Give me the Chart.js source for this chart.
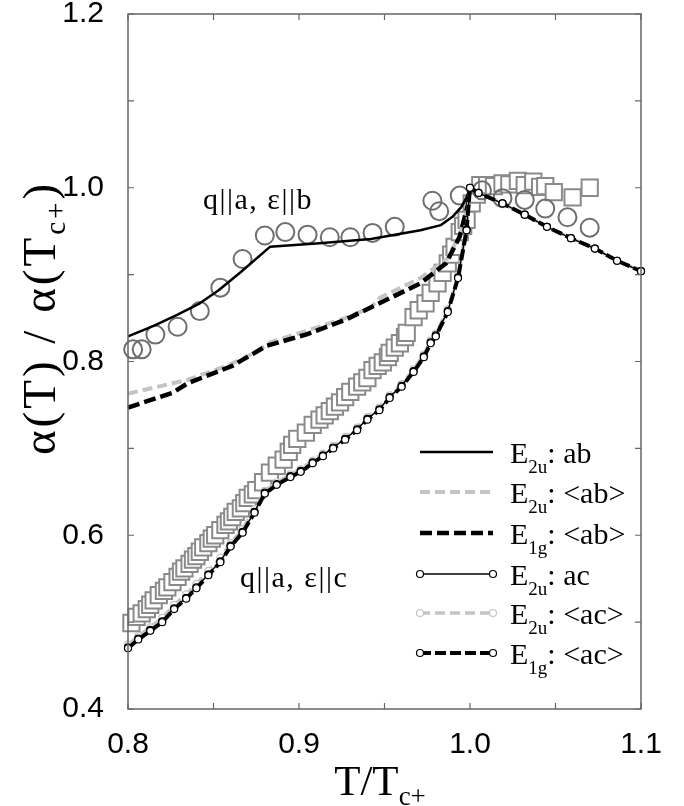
<!DOCTYPE html>
<html lang="en">
<head>
<meta charset="UTF-8">
<title>alpha(T) / alpha(Tc+)</title>
<script src="https://cdn.jsdelivr.net/npm/chart.js"></script>
<style>
html, body { margin: 0; padding: 0; background: #fff; }
#plot { display: block; }
</style>
</head>
<body>
<canvas id="plot" width="684" height="806"></canvas>
<script>
// ---- data ----
const xTickLabels = ['0.8', '0.9', '1.0', '1.1'];
const yTickLabels = ['0.4', '0.6', '0.8', '1.0', '1.2'];

// open circles: q||a, e||b
const circT = [0.803, 0.808, 0.816, 0.829, 0.842, 0.854, 0.867, 0.880, 0.892, 0.905, 0.918, 0.930, 0.943, 0.956, 0.978, 0.982, 0.994, 1.007, 1.019, 1.032, 1.044, 1.057, 1.070];
const circV = [0.814, 0.814, 0.831, 0.840, 0.858, 0.885, 0.918, 0.945, 0.949, 0.946, 0.943, 0.943, 0.948, 0.955, 0.985, 0.973, 0.991, 0.997, 0.988, 0.986, 0.976, 0.966, 0.954];

// open squares: q||a, e||c
const sqT = [0.802, 0.805, 0.808, 0.811, 0.813, 0.815, 0.818, 0.821, 0.823, 0.826, 0.829, 0.831, 0.833, 0.836, 0.838, 0.840, 0.842, 0.844, 0.847, 0.849,
  0.851, 0.854, 0.857, 0.859, 0.861, 0.863, 0.866, 0.868, 0.870, 0.873, 0.875, 0.879, 0.883, 0.887, 0.891, 0.894, 0.896, 0.899, 0.904, 0.908,
  0.912, 0.915, 0.918, 0.921, 0.924, 0.927, 0.930, 0.934, 0.937, 0.940, 0.943, 0.946, 0.949, 0.952, 0.953, 0.956, 0.959, 0.962, 0.963, 0.967,
  0.970, 0.974, 0.977, 0.981, 0.984, 0.987, 0.989, 0.991, 0.994, 0.996, 0.998, 1.001, 1.004, 1.006, 1.010, 1.014, 1.019, 1.023, 1.028, 1.032,
  1.037, 1.041, 1.044, 1.049, 1.060, 1.070];
const sqV = [0.499, 0.506, 0.510, 0.515, 0.520, 0.525, 0.531, 0.536, 0.540, 0.546, 0.552, 0.558, 0.562, 0.567, 0.572, 0.576, 0.581, 0.586, 0.591, 0.596,
  0.600, 0.606, 0.612, 0.616, 0.621, 0.627, 0.631, 0.637, 0.643, 0.647, 0.652, 0.661, 0.672, 0.680, 0.687, 0.696, 0.704, 0.711, 0.718, 0.727,
  0.733, 0.738, 0.743, 0.748, 0.753, 0.759, 0.765, 0.771, 0.776, 0.781, 0.790, 0.795, 0.799, 0.805, 0.810, 0.816, 0.821, 0.828, 0.833, 0.851,
  0.859, 0.867, 0.879, 0.890, 0.902, 0.913, 0.923, 0.932, 0.949, 0.956, 0.963, 0.982, 0.992, 1.003, 1.003, 1.002, 1.005, 1.004, 1.008, 1.003,
  1.007, 1.001, 1.002, 0.995, 0.989, 1.000];

// calculated curves, ab polarisation
const e2uAbT = [0.800, 0.815, 0.829, 0.842, 0.853, 0.866, 0.883, 0.912, 0.942, 0.971, 0.983, 0.990, 0.995, 0.998, 1.000];
const e2uAbV = [0.829, 0.841, 0.854, 0.867, 0.882, 0.903, 0.932, 0.936, 0.941, 0.951, 0.957, 0.967, 0.978, 0.989, 1.000];
const e2uAbAvgT = [0.800, 0.835, 0.859, 0.875, 0.883, 0.904, 0.927, 0.942, 0.947, 0.971, 0.987, 0.994, 0.999, 1.000];
const e2uAbAvgV = [0.763, 0.779, 0.796, 0.811, 0.822, 0.835, 0.850, 0.862, 0.873, 0.896, 0.919, 0.946, 0.980, 1.000];
const e1gAbAvgT = [0.800, 0.826, 0.835, 0.861, 0.881, 0.904, 0.927, 0.947, 0.971, 0.986, 0.994, 0.999, 1.000];
const e1gAbAvgV = [0.747, 0.764, 0.775, 0.795, 0.818, 0.831, 0.848, 0.867, 0.890, 0.913, 0.944, 0.982, 1.000];

// calculated curves, ac polarisation
const acT = [0.800, 0.806, 0.813, 0.820, 0.827, 0.834, 0.840, 0.847, 0.854, 0.860, 0.867, 0.874, 0.880, 0.887, 0.895, 0.901, 0.908, 0.914, 0.920, 0.927,
  0.934, 0.940, 0.947, 0.953, 0.960, 0.967, 0.973, 0.977, 0.980, 0.987, 0.993, 0.998, 1.000, 1.005, 1.019, 1.032, 1.045, 1.059, 1.073, 1.086, 1.100];
const e2uAcV = [0.471, 0.481, 0.491, 0.501, 0.516, 0.528, 0.540, 0.555, 0.570, 0.588, 0.604, 0.627, 0.649, 0.659, 0.668, 0.674, 0.684, 0.692, 0.701, 0.711,
  0.722, 0.734, 0.745, 0.759, 0.772, 0.789, 0.806, 0.822, 0.830, 0.858, 0.897, 0.952, 1.000, 0.994, 0.982, 0.969, 0.955, 0.942, 0.930, 0.916, 0.904];
const e2uAcAvgV = [0.474, 0.484, 0.494, 0.505, 0.520, 0.532, 0.544, 0.559, 0.574, 0.591, 0.607, 0.630, 0.651, 0.661, 0.670, 0.676, 0.686, 0.694, 0.703, 0.713,
  0.724, 0.736, 0.747, 0.761, 0.774, 0.791, 0.808, 0.824, 0.832, 0.860, 0.899, 0.953, 1.000, 0.994, 0.982, 0.969, 0.955, 0.942, 0.930, 0.916, 0.904];
const e1gAcAvgV = [0.470, 0.480, 0.490, 0.500, 0.515, 0.527, 0.539, 0.554, 0.569, 0.587, 0.603, 0.626, 0.648, 0.658, 0.667, 0.673, 0.683, 0.691, 0.700, 0.710,
  0.721, 0.733, 0.744, 0.758, 0.771, 0.788, 0.805, 0.821, 0.829, 0.857, 0.896, 0.951, 1.000, 0.994, 0.982, 0.969, 0.955, 0.942, 0.930, 0.916, 0.904];

// legend text: "E" + subscript + tail
const legendSub = ['2u', '2u', '1g', '2u', '2u', '1g'];
const legendTail = [': ab', ': <ab>', ': <ab>', ': ac', ': <ac>', ': <ac>'];
const notes = ['q||a, \u03b5||b', 'q||a, \u03b5||c'];

const SERIF = '"Liberation Serif", "Times New Roman", serif';
const SANS = '"Liberation Sans", Arial, sans-serif';
const GRAY = '#c4c4c4';

const pts = (xs, ys) => xs.map((x, i) => ({ x: x, y: ys[i] }));

function curve(label, xs, ys, color, width, dash, marker, order) {
  return {
    label: label,
    data: pts(xs, ys),
    showLine: true,
    borderColor: color,
    borderWidth: width,
    borderDash: dash,
    borderCapStyle: 'butt',
    borderJoinStyle: 'round',
    tension: 0,
    pointRadius: marker ? 3.5 : 0,
    pointBackgroundColor: '#fff',
    pointBorderColor: color,
    pointBorderWidth: 1.2,
    order: order
  };
}

// legend rows point at datasets by index
const datasets = [
  curve('E2u: ab', e2uAbT, e2uAbV, '#000', 2.5, [], false, 4),
  curve('E2u: <ab>', e2uAbAvgT, e2uAbAvgV, GRAY, 4, [10, 5], false, 6),
  curve('E1g: <ab>', e1gAbAvgT, e1gAbAvgV, '#000', 4.5, [12, 5], false, 5),
  curve('E2u: ac', acT, e2uAcV, '#000', 1.5, [], true, 2),
  curve('E2u: <ac>', acT, e2uAcAvgV, GRAY, 3.5, [10, 5], true, 3),
  curve('E1g: <ac>', acT, e1gAcAvgV, '#000', 4, [11, 4], true, 1),
  {
    label: 'q||a, e||b data',
    data: pts(circT, circV),
    showLine: false,
    pointStyle: 'circle',
    pointRadius: 9,
    pointBorderColor: '#6e6e6e',
    pointBorderWidth: 2,
    pointBackgroundColor: 'rgba(0,0,0,0)',
    order: 7
  },
  {
    label: 'q||a, e||c data',
    data: pts(sqT, sqV),
    showLine: false,
    pointStyle: 'rect',
    pointRadius: 11.5,
    pointBorderColor: '#8a8a8a',
    pointBorderWidth: 2,
    pointBackgroundColor: '#fff',
    order: 8
  }
];

// frame, inward ticks, legend, titles and notes
const decor = {
  id: 'decor',
  afterDraw(chart) {
    const c = chart.ctx;
    const a = chart.chartArea;
    const xs = chart.scales.x, ys = chart.scales.y;
    c.save();
    c.strokeStyle = '#666';
    c.lineWidth = 1.5;
    c.strokeRect(a.left, a.top, a.right - a.left, a.bottom - a.top);
    c.lineWidth = 1.2;
    c.beginPath();
    xs.ticks.forEach(t => {
      const px = xs.getPixelForValue(t.value);
      c.moveTo(px, a.bottom); c.lineTo(px, a.bottom - 6);
      c.moveTo(px, a.top); c.lineTo(px, a.top + 6);
    });
    ys.ticks.forEach(t => {
      const py = ys.getPixelForValue(t.value);
      c.moveTo(a.left, py); c.lineTo(a.left + 6, py);
      c.moveTo(a.right, py); c.lineTo(a.right - 6, py);
    });
    c.stroke();

    // legend
    const rowY = [452, 492, 533, 574, 613, 653];
    const x0 = 420, x1 = 493, tx = 510;
    legendSub.forEach((sub, i) => {
      const ds = chart.data.datasets[i];
      const y = rowY[i];
      c.strokeStyle = ds.borderColor;
      c.lineWidth = ds.borderWidth;
      c.setLineDash(ds.borderDash);
      c.lineCap = 'butt';
      c.beginPath(); c.moveTo(x0, y); c.lineTo(x1, y); c.stroke();
      c.setLineDash([]);
      if (ds.pointRadius > 0) {
        [x0, x1].forEach(px => {
          c.beginPath();
          c.arc(px, y, 3.5, 0, Math.PI * 2);
          c.fillStyle = '#fff'; c.fill();
          c.lineWidth = 1.2; c.strokeStyle = ds.pointBorderColor; c.stroke();
        });
      }
      c.fillStyle = '#000';
      c.textBaseline = 'alphabetic';
      c.textAlign = 'left';
      c.font = '30px ' + SERIF;
      c.fillText('E', tx, y + 11);
      let w = c.measureText('E').width;
      c.font = '19px ' + SERIF;
      c.fillText(sub, tx + w, y + 21);
      w += c.measureText(sub).width;
      c.font = '30px ' + SERIF;
      c.fillText(legendTail[i], tx + w, y + 11);
    });

    // notes
    c.font = '30px ' + SERIF;
    c.letterSpacing = '1.5px';
    c.fillText(notes[0], 203, 209);
    c.fillText(notes[1], 240, 587);
    c.letterSpacing = '0px';

    // x title: T/T_c+
    c.font = '43px ' + SERIF;
    const main = 'T/T', sub = 'c+';
    const wm = c.measureText(main).width;
    c.font = '27px ' + SERIF;
    const ws = c.measureText(sub).width;
    let sx = 380 - (wm + ws) / 2;
    c.font = '43px ' + SERIF;
    c.fillText(main, sx, 795);
    c.font = '27px ' + SERIF;
    c.fillText(sub, sx + wm, 805);

    // y title: alpha(T) / alpha(T_c+)
    c.translate(55, 318);
    c.rotate(-Math.PI / 2);
    c.letterSpacing = '3px';
    const p1 = '\u03b1(T) / \u03b1(T', p2 = 'c+', p3 = ')';
    c.font = '47px ' + SERIF;
    const w1 = c.measureText(p1).width, w3 = c.measureText(p3).width;
    c.font = '29px ' + SERIF;
    const w2 = c.measureText(p2).width;
    let ox = -(w1 + w2 + w3) / 2;
    c.font = '47px ' + SERIF;
    c.fillText(p1, ox, 0);
    c.font = '29px ' + SERIF;
    c.fillText(p2, ox + w1, 10);
    c.font = '47px ' + SERIF;
    c.fillText(p3, ox + w1 + w2, 0);
    c.restore();
  }
};

function pickLabel(list, v) {
  const hit = list.find(l => Math.abs(parseFloat(l) - v) < 1e-6);
  return hit === undefined ? '' : hit;
}

new Chart(document.getElementById('plot'), {
  type: 'scatter',
  data: { datasets: datasets },
  options: {
    responsive: false,
    animation: false,
    clip: false,
    layout: { padding: { left: 0, right: 43, top: 14, bottom: 0 } },
    plugins: { legend: { display: false }, tooltip: { enabled: false } },
    scales: {
      x: {
        type: 'linear', min: 0.8, max: 1.1,
        grid: { display: false },
        border: { display: false },
        ticks: {
          stepSize: 0.05, autoSkip: false, maxRotation: 0, padding: 10,
          color: '#000', font: { family: SANS, size: 30 },
          callback: v => pickLabel(xTickLabels, v)
        },
        afterFit: s => { s.height = 97; s.paddingLeft = 0; s.paddingRight = 0; }
      },
      y: {
        type: 'linear', min: 0.4, max: 1.2,
        grid: { display: false },
        border: { display: false },
        ticks: {
          stepSize: 0.1, autoSkip: false, padding: 16,
          color: '#000', font: { family: SANS, size: 30 },
          callback: v => pickLabel(yTickLabels, v)
        },
        afterFit: s => { s.width = 128; s.paddingTop = 0; s.paddingBottom = 0; }
      }
    }
  },
  plugins: [decor]
});
</script>
</body>
</html>
